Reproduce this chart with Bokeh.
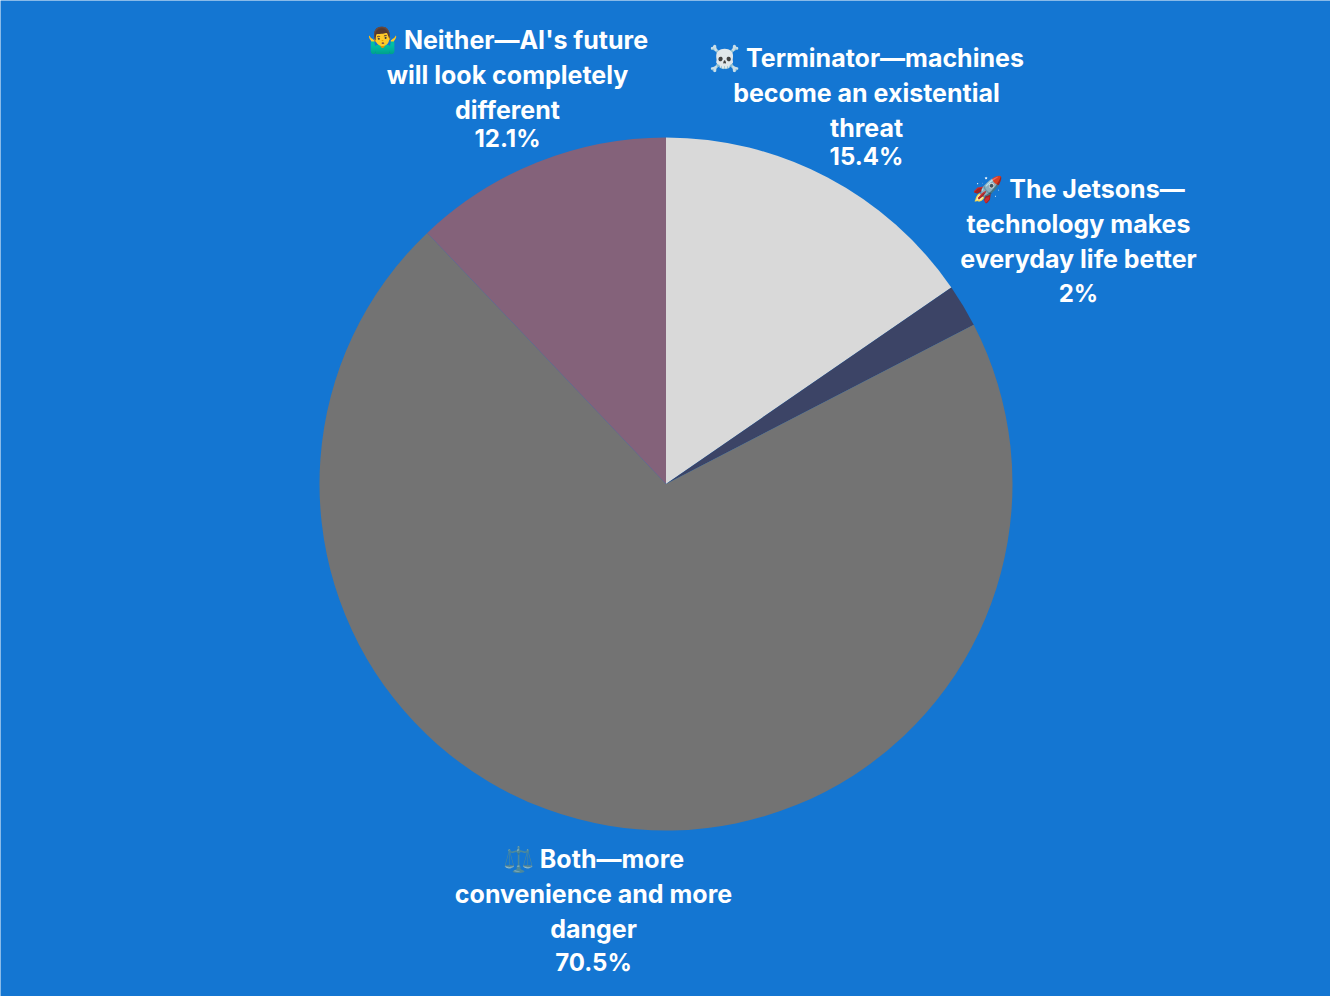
from bokeh.plotting import figure
from bokeh.models import Range1d
from bokeh.core.properties import value
from bokeh.embed import file_html
from bokeh.resources import INLINE
import math

labels = [["☠️ Terminator—machines", "become an existential", "threat"],
          ["🚀 The Jetsons—", "technology makes", "everyday life better"],
          ["⚖️ Both—more", "convenience and more", "danger"],
          ["🤷‍♂️ Neither—AI's future", "will look completely", "different"]]
pct_labels = ["15.4%", "2%", "70.5%", "12.1%"]
shares = [15.4, 2.0, 70.5, 12.1]
colors = ["#d9d9d9", "#3c4466", "#737373", "#84627a"]

# layout (page pixels)
text_x = [866, 1078, 593, 507]
text_y = [57, 188, 858, 39]
pct_y = [155.5, 293, 962, 137.5]

W, H = 1330, 996
p = figure(width=W, height=H, x_range=Range1d(0, W), y_range=Range1d(H, 0),
           output_backend="svg", toolbar_location=None, min_border=0)
p.axis.visible = False
p.grid.visible = False
p.outline_line_color = None
p.background_fill_color = "#1476d2"
p.border_fill_color = "#1476d2"

cx, cy, r = 665.5, 483.5, 346.5
cum = 0
for s, c in zip(shares, colors):
    a0 = -math.pi / 2 + cum / 100 * 2 * math.pi
    cum += s
    a1 = -math.pi / 2 + cum / 100 * 2 * math.pi
    p.wedge(x=[cx], y=[cy], radius=r, start_angle=-a1, end_angle=-a0, fill_color=c, line_color=None)

font = value("Inter")
size = "25px"
for lines, pct, x, y, py in zip(labels, pct_labels, text_x, text_y, pct_y):
    for i, t in enumerate(lines):
        p.text(x=[x], y=[y + i * 35], text=[t], text_color="white", text_font=font, text_font_size=size,
               text_font_style="bold", text_align="center", text_baseline="middle")
    p.text(x=[x], y=[py], text=[pct], text_color="white", text_font=font, text_font_size="24px",
           text_font_style="bold", text_align="center", text_baseline="middle")

open("out.html", "w").write(file_html(p, INLINE))
